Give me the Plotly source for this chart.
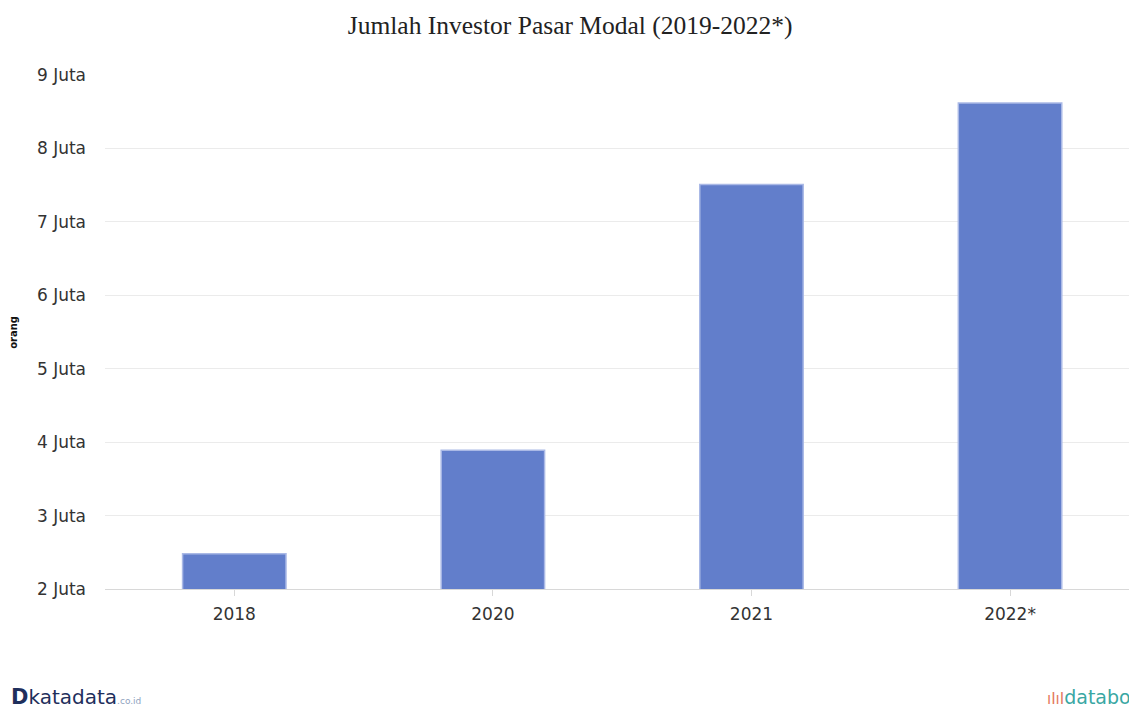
import plotly.graph_objects as go

# Jumlah investor pasar modal (juta orang)
years = ["2018", "2020", "2021", "2022*"]
investors = [2.48, 3.89, 7.51, 8.62]
tick_values = [2, 3, 4, 5, 6, 7, 8, 9]
tick_labels = [f"{v} Juta" for v in tick_values]

fig = go.Figure()
fig.add_trace(go.Bar(
    x=years,
    y=investors,
    width=0.4,
    marker=dict(color="#627ecb", line=dict(color="#aab9e6", width=1.5)),
    hovertemplate="%{x}: %{y} Juta<extra></extra>",
))

fig.update_layout(
    width=1129,
    height=713,
    paper_bgcolor="white",
    plot_bgcolor="white",
    margin=dict(l=105, r=0, t=75, b=124),
    showlegend=False,
    title=dict(
        text="Jumlah Investor Pasar Modal (2019-2022*)",
        x=0.505, xref="container", xanchor="center",
        y=0.965, yanchor="middle",
        font=dict(family="Liberation Serif, Times New Roman, serif", size=25.5, color="#222222"),
    ),
    font=dict(family="DejaVu Sans, Verdana, sans-serif", size=17, color="#333333"),
)

fig.update_xaxes(
    type="category",
    range=[-0.5, 3.46],
    showgrid=False,
    showline=True,
    linecolor="#d8d8d8",
    linewidth=1,
    ticks="outside",
    ticklen=6,
    tickcolor="#d8d8d8",
    ticklabelstandoff=4,
    tickfont=dict(size=17, color="#333333"),
)

fig.update_yaxes(
    range=[2, 9],
    tickvals=tick_values,
    ticktext=tick_labels,
    showgrid=True,
    gridcolor="#ebebeb",
    gridwidth=1,
    zeroline=False,
    showline=False,
    ticks="",
    ticklabelstandoff=18,
    tickfont=dict(size=17, color="#333333"),
)

# Axis title drawn as a rotated annotation at the far left
fig.add_annotation(
    text="<b>orang</b>", textangle=-90,
    xref="paper", yref="paper", x=-0.09, y=0.5,
    xanchor="center", yanchor="middle",
    showarrow=False, font=dict(size=10, color="#111111"),
)

# Source branding
fig.add_annotation(
    text="<b>D</b><span style='font-size:20px'>katadata</span><span style='font-size:9px;color:#8fa3c0'>.co.id</span>",
    xref="paper", yref="paper", x=-0.094, y=-0.21,
    xanchor="left", yanchor="middle", showarrow=False,
    font=dict(family="DejaVu Sans, sans-serif", size=21, color="#1f2f5c"),
)
fig.add_annotation(
    text="<span style='color:#e57b5f;font-size:15px'>ıIıI</span><span style='color:#3aa7a3'>databoks</span>",
    xref="paper", yref="paper", x=0.918, y=-0.21,
    xanchor="left", yanchor="middle", showarrow=False,
    font=dict(family="DejaVu Sans, sans-serif", size=19, color="#3aa7a3"),
)

fig.write_html("out.html")
